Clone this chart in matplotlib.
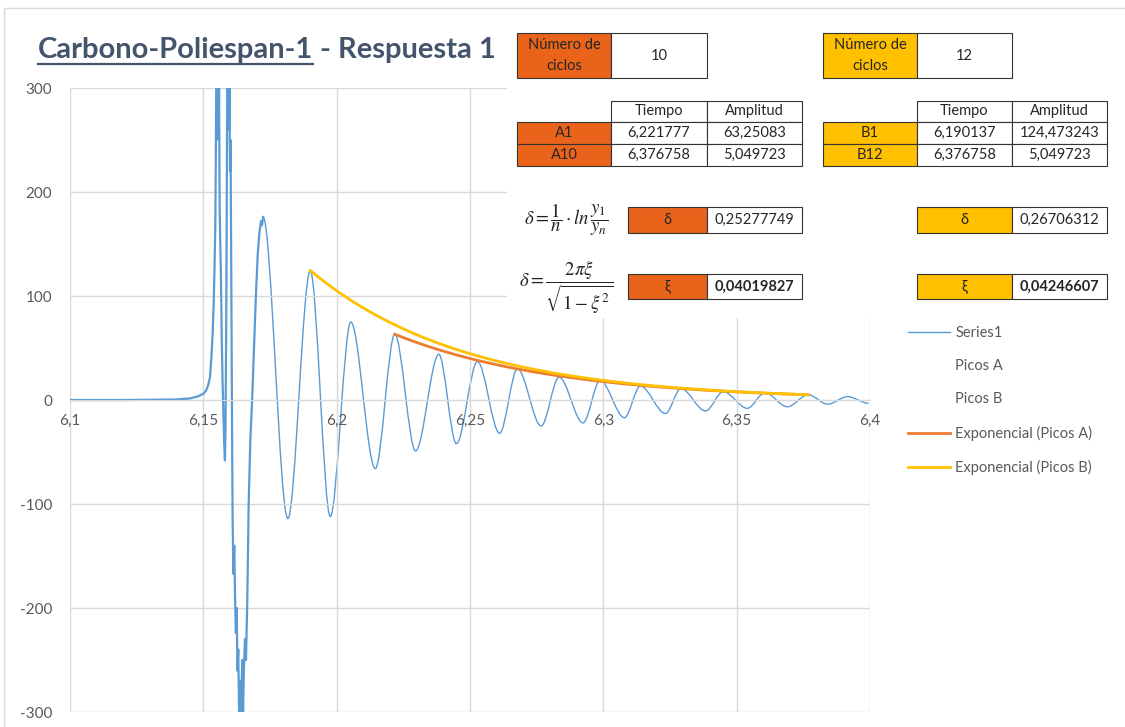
import numpy as np
import matplotlib
matplotlib.use("Agg")
import matplotlib.pyplot as plt
from matplotlib.path import Path
from matplotlib.patches import PathPatch, Rectangle
from matplotlib.lines import Line2D
from matplotlib.ticker import FixedLocator, FuncFormatter

plt.rcParams['font.family'] = ['Lato', 'DejaVu Sans']
plt.rcParams['axes.unicode_minus'] = False
plt.rcParams['mathtext.fontset'] = 'stix'

# --- data ---
# noisy impact part (6.10 .. first clean peak)
t_noise = [6.100, 6.120, 6.140, 6.145, 6.148, 6.1500, 6.1510, 6.1518, 6.1525, 6.1530,
           6.1535, 6.1539, 6.1542, 6.1545, 6.1547, 6.1549, 6.1551, 6.1553, 6.1555, 6.1557,
           6.1559, 6.1561, 6.1563, 6.1566, 6.1569, 6.1572, 6.1575, 6.1578, 6.1581, 6.1583,
           6.1586, 6.1588, 6.1590, 6.1592, 6.1594, 6.1596, 6.1598, 6.1600, 6.1602, 6.1604,
           6.1606, 6.1608, 6.1610, 6.1613, 6.1616, 6.1619, 6.1622, 6.1625, 6.1628, 6.1631,
           6.1634, 6.1637, 6.1640, 6.1643, 6.1646, 6.1649, 6.1652, 6.1656, 6.1660, 6.1665,
           6.1670, 6.1676, 6.1683, 6.1690, 6.1697, 6.1704, 6.1710, 6.1716, 6.1720, 6.1724]
v_noise = [0, 0, 0.5, 1.5, 3.5, 6, 9, 14, 22, 40,
           64, 95, 128, 170, 240, 330, 320, 280, 340, 250,
           300, 190, 157, 120, 60, 20, -10, -40, -58, -30,
           80, 200, 330, 310, 340, 260, 300, 220, 250, 160,
           60, -40, -120, -167, -140, -190, -224, -200, -260, -240,
           -300, -270, -310, -280, -250, -300, -260, -230, -250, -190,
           -100, -40, 0, 50, 100, 140, 160, 172, 168, 176]

# damped oscillation: successive peaks and troughs
t_ext = [6.1724, 6.1817, 6.1901, 6.1976, 6.2053, 6.2145, 6.2218, 6.2296, 6.2383, 6.2449,
         6.2528, 6.2611, 6.2678, 6.2767, 6.2834, 6.2924, 6.2988, 6.3079, 6.3139, 6.3233,
         6.3291, 6.3383, 6.3450, 6.3540, 6.3606, 6.3690, 6.3768, 6.3841, 6.3916, 6.3995]
v_ext = [176, -114, 124.5, -112, 75, -66, 63.3, -49, 44, -42,
         37, -32, 30, -25, 22, -22, 19, -17, 13.5, -13,
         11, -10.5, 8, -8, 7, -6.5, 5.05, -4, 3.2, -3.2]

# peaks used for the exponential trendlines
picos_a_t = [6.221777, 6.376758]
picos_a_v = [63.25083, 5.049723]
picos_b_t = [6.190137, 6.376758]
picos_b_v = [124.473243, 5.049723]

xticks = [6.10, 6.15, 6.20, 6.25, 6.30, 6.35, 6.40]
yticks = [-300, -200, -100, 0, 100, 200, 300]

ciclos_a, ciclos_b = "10", "12"
tabla_a = [["A1", "6,221777", "63,25083"], ["A10", "6,376758", "5,049723"]]
tabla_b = [["B1", "6,190137", "124,473243"], ["B12", "6,376758", "5,049723"]]
delta_a, delta_b = "0,25277749", "0,26706312"
xi_a, xi_b = "0,04019827", "0,04246607"

BLUE = '#5B9BD5'
ORANGE = '#E9641A'
YELLOW = '#FFC000'
TREND_A = '#ED7D31'
GREY = '#595959'

W, H = 1125, 727
fig = plt.figure(figsize=(W / 100, H / 100), dpi=100)


def fx(x):
    return x / W


def fy(y):
    return 1 - y / H


ax = fig.add_axes([fx(70), fy(712), fx(870) - fx(70), fy(88) - fy(712)])
ax.set_xlim(6.1, 6.4)
ax.set_ylim(-300, 300)
ax.xaxis.set_major_locator(FixedLocator(xticks))
ax.yaxis.set_major_locator(FixedLocator(yticks))
ax.xaxis.set_major_formatter(FuncFormatter(
    lambda v, p: f"{v:.2f}".rstrip('0').rstrip('.').replace('.', ',')))
ax.grid(True, color='#D9D9D9', lw=1)
for s in ['top', 'right', 'left']:
    ax.spines[s].set_visible(False)
ax.spines['bottom'].set_position(('data', 0))
ax.spines['bottom'].set_color('#D9D9D9')
ax.tick_params(length=0, labelsize=11, labelcolor=GREY)
ax.tick_params(axis='x', pad=10)
ax.tick_params(axis='y', pad=13)

# Series1: noisy part as a plain line, oscillation as a smoothed line
ax.plot(t_noise, v_noise, color=BLUE, lw=1.6)
verts = [(t_ext[0], v_ext[0])]
codes = [Path.MOVETO]
for i in range(len(t_ext) - 1):
    dt = t_ext[i + 1] - t_ext[i]
    verts += [(t_ext[i] + dt / 3, v_ext[i]), (t_ext[i + 1] - dt / 3, v_ext[i + 1]),
              (t_ext[i + 1], v_ext[i + 1])]
    codes += [Path.CURVE4] * 3
ax.add_patch(PathPatch(Path(verts, codes), fill=False, edgecolor=BLUE, lw=1.0))

# exponential trendlines (fit through the peaks, like Excel)
for tt, vv, col in [(picos_a_t, picos_a_v, TREND_A), (picos_b_t, picos_b_v, YELLOW)]:
    b, a = np.polyfit(tt, np.log(vv), 1)
    xs = np.linspace(tt[0], tt[-1], 200)
    ax.plot(xs, np.exp(a + b * xs), color=col, lw=2.0)

# chart border
fig.add_artist(Rectangle((fx(4), fy(H + 5)), 1.2, fy(8) - fy(H + 5), transform=fig.transFigure,
                         fill=False, edgecolor='#D9D9D9', lw=1))

# white area behind the tables
fig.add_artist(Rectangle((fx(507), fy(318)), fx(1110) - fx(507), fy(25) - fy(318),
                         transform=fig.transFigure, facecolor='white', edgecolor='none', zorder=1.5))


def cell(x0, y0, x1, y1, fc, text, bold=False, size=10.5, ls=1.2):
    fig.add_artist(Rectangle((fx(x0), fy(y1)), fx(x1) - fx(x0), fy(y0) - fy(y1),
                             transform=fig.transFigure, facecolor=fc, edgecolor='#333333',
                             lw=0.8, zorder=2))
    fig.text(fx((x0 + x1) / 2), fy((y0 + y1) / 2), text, ha='center', va='center',
             fontsize=size, color='#262626', weight='bold' if bold else 'normal',
             linespacing=ls, zorder=3)


for cols, fc, nc, tab, dl, xi in [([517, 611, 707, 802], ORANGE, ciclos_a, tabla_a, delta_a, xi_a),
                                  ([823, 917, 1012, 1107], YELLOW, ciclos_b, tabla_b, delta_b, xi_b)]:
    cell(cols[0], 33, cols[1], 78, fc, "Número de\nciclos", size=10.5, ls=1.55)
    cell(cols[1], 33, cols[2], 78, 'white', nc)
    cell(cols[1], 101, cols[2], 122, 'white', "Tiempo")
    cell(cols[2], 101, cols[3], 122, 'white', "Amplitud")
    for r, row in enumerate(tab):
        y0 = 122 + r * 22
        cell(cols[0], y0, cols[1], y0 + 22, fc, row[0])
        cell(cols[1], y0, cols[2], y0 + 22, 'white', row[1])
        cell(cols[2], y0, cols[3], y0 + 22, 'white', row[2])
    dx0 = 628 if fc == ORANGE else cols[1]
    cell(dx0, 207, cols[2], 233, fc, "δ")
    cell(cols[2], 207, cols[3], 233, 'white', dl)
    cell(dx0, 274, cols[2], 299, fc, "ξ")
    cell(cols[2], 274, cols[3], 299, 'white', xi, bold=True)

fig.text(fx(566), fy(220), r'$\delta = \dfrac{1}{n}\cdot ln\,\dfrac{y_1}{y_n}$', ha='center',
         va='center', fontsize=13.5, color='#222222', zorder=3)
fig.text(fx(566), fy(287), r'$\delta = \dfrac{2\pi\xi}{\sqrt{1-\xi^2}}$', ha='center',
         va='center', fontsize=13.5, color='#222222', zorder=3)

# title with underlined first part
TITLE_C = '#44546A'
t1 = fig.text(fx(38), fy(58), "Carbono-Poliespan-1", fontsize=21, weight='bold',
              color=TITLE_C, va='baseline')
fig.canvas.draw()
bb = t1.get_window_extent()
t2 = fig.text(bb.x1 / W, fy(58), " - Respuesta 1", fontsize=21, weight='bold',
              color=TITLE_C, va='baseline')
fig.add_artist(Line2D([bb.x0 / W, bb.x1 / W], [fy(64), fy(64)], color=TITLE_C, lw=1.6,
                      transform=fig.transFigure))

# legend
handles = [Line2D([], [], color=BLUE, lw=1.0),
           Line2D([], [], linestyle='none'),
           Line2D([], [], linestyle='none'),
           Line2D([], [], color=TREND_A, lw=2.0),
           Line2D([], [], color=YELLOW, lw=2.0)]
labels = ["Series1", "Picos A", "Picos B", "Exponencial (Picos A)", "Exponencial (Picos B)"]
fig.legend(handles, labels, loc='upper left', bbox_to_anchor=(fx(902), fy(320)),
           frameon=False, fontsize=10.5, labelcolor=GREY, handlelength=2.9,
           handletextpad=0.35, labelspacing=1.32, borderaxespad=0)

fig.savefig("out.png", dpi=100)
